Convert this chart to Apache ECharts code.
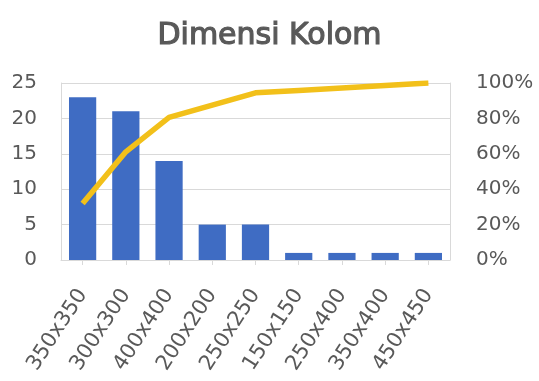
<!DOCTYPE html>
<html>
<head>
<meta charset="utf-8">
<script src="https://cdn.jsdelivr.net/npm/echarts@6/dist/echarts.min.js"></script>
<style>
  html, body { margin: 0; padding: 0; background: #fff; }
  #chart { width: 539px; height: 381px; }
</style>
</head>
<body>
<div id="chart"></div>
<script>
// Column dimensions and how often each occurs
const categories = ['350x350', '300x300', '400x400', '200x200', '250x250', '150x150', '250x400', '350x400', '450x450'];
const counts = [23, 21, 14, 5, 5, 1, 1, 1, 1];
const leftTicks = [0, 5, 10, 15, 20, 25];
const rightTicks = [0, 20, 40, 60, 80, 100];

// Cumulative share (%) for the Pareto line
const total = counts.reduce((a, b) => a + b, 0);
const cumulative = [];
let running = 0;
for (const c of counts) {
  running += c;
  cumulative.push(+(running / total * 100).toFixed(2));
}

const FONT = 'DejaVu Sans';
const TEXT = '#595959';

const chart = echarts.init(document.getElementById('chart'), null, { renderer: 'canvas' });
chart.setOption({
  animation: false,
  backgroundColor: '#ffffff',
  title: {
    text: 'Dimensi Kolom',
    left: 'center',
    top: 16,
    textStyle: {
      fontFamily: FONT, fontSize: 30, fontWeight: 'normal', color: TEXT,
      textBorderColor: TEXT, textBorderWidth: 1.2
    }
  },
  grid: { left: 61, right: 89, top: 83, bottom: 121, containLabel: false },
  xAxis: {
    type: 'category',
    data: categories,
    axisLine: { lineStyle: { color: '#d9d9d9', width: 1 } },
    axisTick: { show: true, alignWithLabel: true, length: 5, lineStyle: { color: '#d9d9d9' } },
    axisLabel: {
      rotate: 57, margin: 31, interval: 0,
      fontFamily: FONT, fontSize: 21, color: TEXT
    }
  },
  yAxis: [
    {
      type: 'value', min: leftTicks[0], max: leftTicks[leftTicks.length - 1], interval: 5,
      axisLine: { show: true, lineStyle: { color: '#d9d9d9' } },
      axisTick: { show: false },
      splitLine: { lineStyle: { color: '#d9d9d9', width: 1 } },
      axisLabel: { margin: 24, fontFamily: FONT, fontSize: 20, color: TEXT }
    },
    {
      type: 'value', min: rightTicks[0], max: rightTicks[rightTicks.length - 1], interval: 20,
      axisLine: { show: true, lineStyle: { color: '#d9d9d9' } },
      axisTick: { show: false },
      splitLine: { show: false },
      axisLabel: { margin: 26, fontFamily: FONT, fontSize: 20, color: TEXT, formatter: '{value}%' }
    }
  ],
  series: [
    {
      type: 'bar',
      data: counts,
      yAxisIndex: 0,
      barCategoryGap: '37%',
      itemStyle: { color: '#3f6cc3' }
    },
    {
      type: 'line',
      data: cumulative,
      yAxisIndex: 1,
      symbol: 'none',
      lineStyle: { color: '#f2c01a', width: 5.5 },
      itemStyle: { color: '#f2c01a' }
    }
  ]
});
</script>
</body>
</html>
